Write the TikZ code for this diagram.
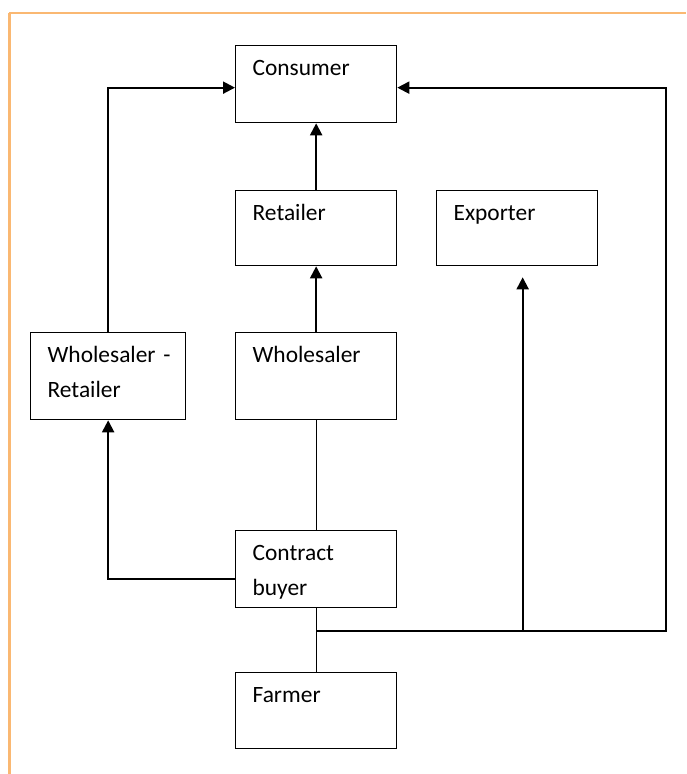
\documentclass[tikz,border=0pt]{standalone}
\usepackage{fontspec}
\setmainfont{Carlito}
\definecolor{framecol}{HTML}{FAB872}
\usetikzlibrary{arrows.meta}

\begin{document}
\begin{tikzpicture}[x=0.5pt, y=-0.5pt,
  box/.style={draw, line width=0.65pt, anchor=north west, align=left,
    inner xsep=8.5pt, inner ysep=0pt, text width=63.5pt, text height=15pt,
    font=\fontsize{11.7}{17.5}\selectfont},
  flow/.style={-{Triangle[length=6pt,width=6pt]}, line width=1pt},
  link/.style={line width=0.65pt}]

\useasboundingbox (0,0) rectangle (686,774);

% === Frame ===
\draw[framecol, line width=1.5pt] (9.5,774) -- (9.5,13.5);
\draw[framecol, line width=1pt] (8.75,13.5) -- (686,13.5);

% === Boxes ===
\node[box, text depth=23.5pt] (cons) at (235,45) {Consumer};
\node[box, text depth=22.5pt] (ret) at (235,190) {Retailer};
\node[box, text depth=22.5pt] (exp) at (436,190) {Exporter};
\node[box, text depth=28.5pt, text width=60.5pt] (wr) at (30,332) {\mbox{Wholesaler -}\\Retailer};
\node[box, text depth=28.5pt] (whl) at (235,332) {Wholesaler};
\node[box, text depth=23.5pt] (cb) at (235,530) {Contract\\buyer};
\node[box, text depth=23pt] (farm) at (235,672) {Farmer};

% === Connectors ===
\coordinate (split) at (cb.south |- 0,631);
\coordinate (bend) at (666,631);

\draw[flow] (wr.north) |- ([yshift=-1.75pt]cons.west);
\draw[flow] (ret.north) -- (cons.south);
\draw[flow] (whl.north) -- (ret.south);
\draw[link] (whl.south) -- (cb.north);
\draw[flow] ([yshift=-4.75pt]cb.west) -| (wr.south);
\draw[link] (cb.south) -- (farm.north);
\draw[flow] (split) -- (bend) |- ([yshift=-1.75pt]cons.east);
\draw[flow] ([xshift=2.75pt]split -| exp.south) -- ([xshift=2.75pt, yshift=-5.5pt]exp.south);

\end{tikzpicture}
\end{document}
